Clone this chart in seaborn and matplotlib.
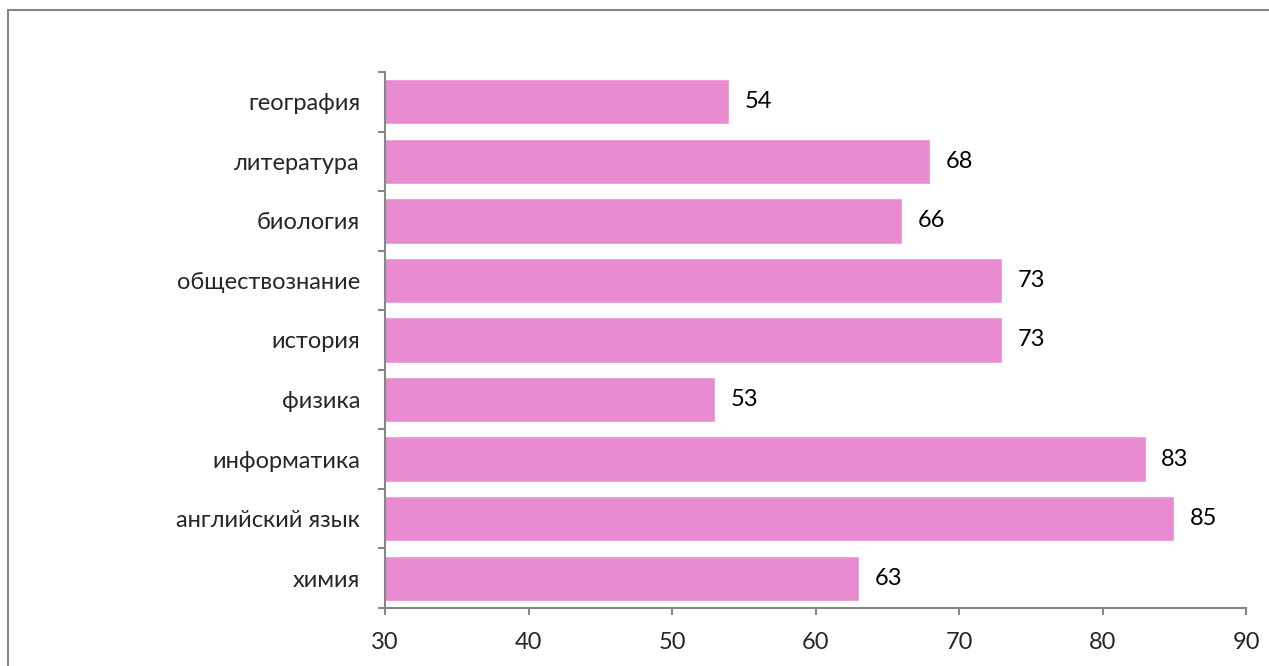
import pandas as pd
import matplotlib.pyplot as plt
import seaborn as sns
from matplotlib.lines import Line2D

# Данные
subjects = ['география', 'литература', 'биология', 'обществознание', 'история',
            'физика', 'информатика', 'английский язык', 'химия']
scores = [54, 68, 66, 73, 73, 53, 83, 85, 63]


def main():
    sns.set_style('white')
    plt.rcParams['font.family'] = ['Lato', 'DejaVu Sans']

    df = pd.DataFrame({'subject': subjects, 'score': scores})

    fig = plt.figure(figsize=(12.69, 6.66), dpi=100)
    ax = fig.add_axes([385 / 1269, 1 - 608 / 666, (1246 - 385) / 1269, (608 - 72) / 666])

    bar_color = '#E88BD0'
    sns.barplot(data=df, x='score', y='subject', order=subjects, color=bar_color,
                saturation=1, width=0.76, ax=ax)

    ax.set_xlim(30, 90)
    ax.set_xticks(range(30, 91, 10))
    ax.set_ylim(len(subjects) - 0.5, -0.5)
    ax.set_xlabel('')
    ax.set_ylabel('')

    # Засечки между категориями
    ax.set_yticks([i - 0.5 for i in range(len(subjects) + 1)])
    ax.set_yticklabels([])
    ax.set_yticks(range(len(subjects)), minor=True)
    ax.set_yticklabels(subjects, minor=True, fontsize=17)
    ax.tick_params(axis='y', which='minor', left=False, length=0, pad=18)
    ax.tick_params(axis='y', which='major', left=True, length=5, width=1.5,
                   color='#868686', direction='out')
    ax.tick_params(axis='x', bottom=True, length=5, width=1.5, color='#868686',
                   direction='out', labelsize=17, pad=12)

    for side in ['top', 'right']:
        ax.spines[side].set_visible(False)
    for side in ['left', 'bottom']:
        ax.spines[side].set_color('#868686')
        ax.spines[side].set_linewidth(1.5)

    # Подписи значений
    for i, v in enumerate(scores):
        ax.text(v + 1.1, i, str(v), va='center', ha='left', fontsize=17, color='black')

    # Рамка вокруг диаграммы
    fig.add_artist(Line2D([8 / 1269, 1], [1 - 10 / 666, 1 - 10 / 666],
                          transform=fig.transFigure, color='#868686', lw=1.5))
    fig.add_artist(Line2D([8 / 1269, 8 / 1269], [0, 1 - 10 / 666],
                          transform=fig.transFigure, color='#868686', lw=1.5))

    fig.savefig('out.png', dpi=100)


if __name__ == '__main__':
    main()
